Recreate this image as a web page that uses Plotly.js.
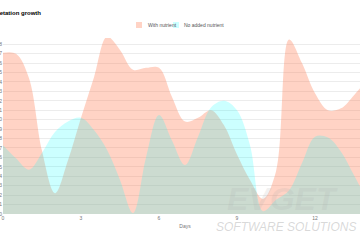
<!DOCTYPE html>
<html>
<head>
<meta charset="utf-8">
<script src="https://cdn.plot.ly/plotly-3.0.1.min.js"></script>
<style>
  html, body { margin: 0; padding: 0; width: 360px; height: 240px; overflow: hidden; background: #fff; }
  #chart { position: absolute; left: -40px; top: 0; width: 410px; height: 240px; }
</style>
</head>
<body>
<div id="chart"></div>
<script>
const titleText = 'Vegetation growth';
const days = [0, 0.5, 1, 1.5, 2, 2.5, 3, 3.5, 4, 4.5, 5, 5.5, 6, 6.5, 7, 7.5, 8, 8.5, 9, 9.5, 10, 10.5, 11, 11.5, 12, 12.5, 13, 13.5, 14];
const withNutrient = [17.1, 17.0, 14.4, 6.7, 2.2, 5.7, 10.2, 14.5, 18.8, 17.4, 15.3, 15.5, 15.5, 12.4, 9.8, 10.2, 11.0, 9.4, 6.3, 3.6, 1.6, 4.5, 18.5, 16.0, 12.8, 11.0, 11.2, 12.6, 14.2];
const noNutrient = [7.3, 5.9, 4.7, 6.5, 8.7, 9.8, 10.2, 8.9, 6.8, 3.6, 0.1, 6.0, 10.5, 7.8, 5.2, 8.2, 11.3, 12.0, 11.0, 7.3, 0.3, 1.5, 2.5, 5.4, 8.2, 8.1, 6.6, 4.1, 1.5];
const seriesNames = ['With nutrient', 'No added nutrient'];
const seriesColors = ['rgba(255,130,90,0.35)', 'rgba(0,255,255,0.2)'];
const xTicks = [0, 3, 6, 9, 12];

const font = 'Liberation Sans, Arial, sans-serif';

const traces = [withNutrient, noNutrient].map((vals, i) => ({
  x: days, y: vals, name: seriesNames[i], type: 'scatter', mode: 'lines',
  line: { width: 0, shape: 'spline', smoothing: 1, color: seriesColors[i] },
  fill: 'tozeroy', fillcolor: seriesColors[i], hoverinfo: 'skip', showlegend: false
}));

// custom legend (small square swatches like the reference)
const legendSwatchX = [[0.3654, 0.3819], [0.467, 0.4835]];
const legendTextX = [0.3929, 0.4918];
const shapes = seriesNames.map((n, i) => ({
  type: 'rect', xref: 'paper', yref: 'paper',
  x0: legendSwatchX[i][0], x1: legendSwatchX[i][1], y0: 1.0568, y1: 1.0909,
  fillcolor: seriesColors[i], line: { width: 0 }
}));
const legendAnn = seriesNames.map((n, i) => ({
  text: n, xref: 'paper', yref: 'paper', x: legendTextX[i], y: 1.0739,
  xanchor: 'left', yanchor: 'middle', showarrow: false,
  font: { family: font, size: 5, color: '#555' }
}));

const layout = {
  width: 410, height: 240,
  margin: { l: 43, r: 3, t: 38, b: 26 },
  paper_bgcolor: '#fff', plot_bgcolor: '#fff',
  font: { family: font, size: 5, color: '#666' },
  title: {
    text: '<b>' + titleText + '</b>',
    font: { family: font, size: 6, color: '#000' },
    xref: 'container', x: 0.0707, xanchor: 'left',
    yref: 'container', y: 0.946, yanchor: 'middle'
  },
  showlegend: false,
  xaxis: {
    range: [0, 14], tickvals: xTicks, ticktext: xTicks.map(String),
    showgrid: false, zeroline: false, showline: false, ticks: '',
    tickfont: { family: font, size: 5, color: '#777' },
    title: { text: 'Days', font: { family: font, size: 5, color: '#777' }, standoff: 4 },
    fixedrange: true
  },
  yaxis: {
    range: [0, 18.66], dtick: 1, tick0: 0,
    showgrid: true, gridcolor: '#ececec', gridwidth: 1,
    zeroline: false, showline: false, ticks: '',
    tickfont: { family: font, size: 5, color: '#777' },
    fixedrange: true
  },
  shapes: shapes,
  annotations: legendAnn.concat([
    {
      text: '<b><i>EVGET</i></b>', xref: 'paper', yref: 'paper', x: 0.61, y: 0.085,
      xanchor: 'left', yanchor: 'middle',
      showarrow: false, font: { family: font, size: 32, color: 'rgba(170,170,170,0.16)' }
    },
    {
      text: '<i>SOFTWARE SOLUTIONS</i>', xref: 'paper', yref: 'paper', x: 0.975, y: -0.074,
      xanchor: 'right', yanchor: 'middle',
      showarrow: false, font: { family: font, size: 12, color: 'rgba(170,170,170,0.45)' }
    }
  ])
};

Plotly.newPlot('chart', traces, layout, { displayModeBar: false, staticPlot: true });
</script>
</body>
</html>
